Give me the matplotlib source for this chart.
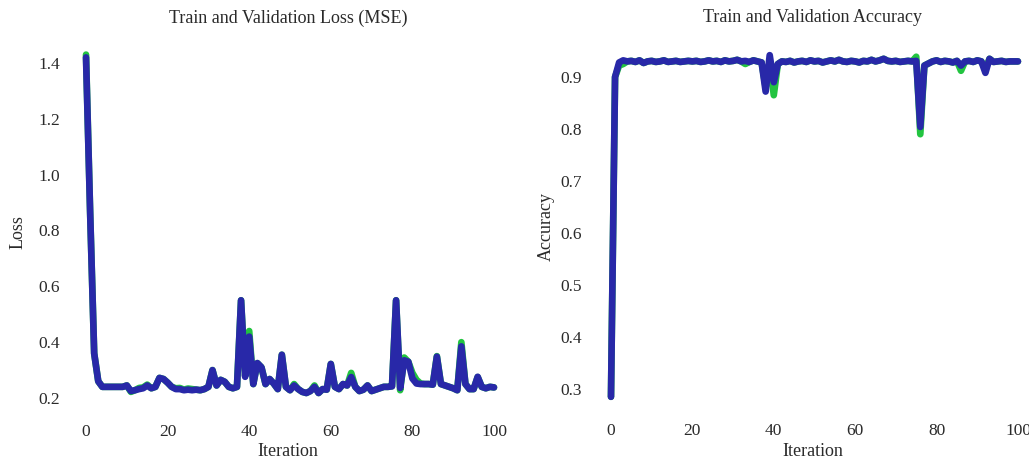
import matplotlib
matplotlib.use("Agg")
import matplotlib.pyplot as plt
import numpy as np

iterations = list(range(101))

train_loss = [1.43, 0.87, 0.36, 0.26, 0.24, 0.24, 0.24, 0.24, 0.24, 0.24,
              0.245, 0.222, 0.228, 0.236, 0.238, 0.248, 0.235, 0.24, 0.272, 0.268,
              0.255, 0.24, 0.235, 0.236, 0.23, 0.234, 0.232, 0.23, 0.228, 0.232,
              0.24, 0.30, 0.245, 0.265, 0.258, 0.24, 0.235, 0.24, 0.55, 0.28,
              0.44, 0.25, 0.325, 0.31, 0.25, 0.268, 0.252, 0.232, 0.355, 0.24,
              0.228, 0.25, 0.232, 0.222, 0.218, 0.225, 0.245, 0.218, 0.232, 0.23,
              0.322, 0.24, 0.232, 0.25, 0.245, 0.29, 0.24, 0.225, 0.23, 0.245,
              0.225, 0.23, 0.235, 0.24, 0.24, 0.242, 0.55, 0.228, 0.345, 0.33,
              0.29, 0.265, 0.252, 0.25, 0.25, 0.248, 0.35, 0.25, 0.245, 0.24,
              0.235, 0.228, 0.40, 0.25, 0.232, 0.232, 0.275, 0.24, 0.235, 0.24,
              0.238]

val_loss = [1.42, 0.87, 0.36, 0.26, 0.24, 0.24, 0.24, 0.24, 0.24, 0.24,
            0.245, 0.225, 0.228, 0.232, 0.235, 0.245, 0.235, 0.24, 0.272, 0.268,
            0.255, 0.24, 0.232, 0.232, 0.228, 0.23, 0.228, 0.23, 0.228, 0.232,
            0.24, 0.30, 0.245, 0.265, 0.258, 0.24, 0.235, 0.24, 0.55, 0.276,
            0.42, 0.25, 0.325, 0.31, 0.25, 0.268, 0.252, 0.232, 0.355, 0.24,
            0.228, 0.245, 0.232, 0.222, 0.218, 0.225, 0.24, 0.218, 0.232, 0.23,
            0.322, 0.24, 0.232, 0.25, 0.245, 0.275, 0.24, 0.225, 0.23, 0.245,
            0.225, 0.23, 0.235, 0.24, 0.24, 0.242, 0.55, 0.236, 0.335, 0.33,
            0.27, 0.252, 0.25, 0.25, 0.25, 0.248, 0.348, 0.25, 0.245, 0.24,
            0.235, 0.228, 0.385, 0.25, 0.232, 0.232, 0.276, 0.24, 0.235, 0.24,
            0.238]

train_acc = [0.285, 0.90, 0.922, 0.925, 0.930, 0.931, 0.929, 0.932, 0.927, 0.930,
             0.931, 0.929, 0.930, 0.932, 0.929, 0.930, 0.931, 0.929, 0.930, 0.931,
             0.930, 0.931, 0.929, 0.930, 0.932, 0.930, 0.931, 0.929, 0.932, 0.930,
             0.931, 0.933, 0.930, 0.925, 0.929, 0.932, 0.930, 0.928, 0.88, 0.93,
             0.865, 0.925, 0.930, 0.929, 0.931, 0.928, 0.930, 0.931, 0.929, 0.932,
             0.930, 0.931, 0.928, 0.930, 0.932, 0.930, 0.933, 0.930, 0.929, 0.931,
             0.930, 0.928, 0.931, 0.930, 0.933, 0.930, 0.932, 0.935, 0.931, 0.930,
             0.931, 0.929, 0.930, 0.931, 0.930, 0.939, 0.79, 0.922, 0.926, 0.930,
             0.932, 0.929, 0.931, 0.930, 0.928, 0.931, 0.912, 0.930, 0.931, 0.929,
             0.932, 0.930, 0.915, 0.935, 0.929, 0.930, 0.931, 0.929, 0.930, 0.930,
             0.930]

val_acc = [0.285, 0.90, 0.928, 0.932, 0.930, 0.931, 0.929, 0.932, 0.927, 0.930,
           0.931, 0.929, 0.930, 0.932, 0.929, 0.930, 0.931, 0.929, 0.930, 0.931,
           0.930, 0.931, 0.929, 0.930, 0.932, 0.930, 0.931, 0.929, 0.932, 0.930,
           0.931, 0.933, 0.930, 0.931, 0.929, 0.932, 0.930, 0.928, 0.872, 0.942,
           0.89, 0.925, 0.930, 0.929, 0.931, 0.928, 0.930, 0.931, 0.929, 0.932,
           0.930, 0.931, 0.928, 0.930, 0.932, 0.930, 0.933, 0.930, 0.929, 0.931,
           0.930, 0.928, 0.931, 0.930, 0.933, 0.930, 0.932, 0.935, 0.931, 0.930,
           0.931, 0.929, 0.930, 0.931, 0.930, 0.931, 0.804, 0.922, 0.926, 0.930,
           0.932, 0.929, 0.931, 0.930, 0.928, 0.931, 0.922, 0.930, 0.931, 0.929,
           0.932, 0.930, 0.908, 0.935, 0.929, 0.930, 0.931, 0.929, 0.930, 0.930,
           0.930]

loss_ticks = [0.2, 0.4, 0.6, 0.8, 1.0, 1.2, 1.4]
acc_ticks = [0.3, 0.4, 0.5, 0.6, 0.7, 0.8, 0.9]
x_ticks = [0, 20, 40, 60, 80, 100]

GREEN = "#22c440"
BLUE = "#2828a8"
TEXT = "#2a2a2a"
FONT = "Liberation Serif"

plt.rcParams["font.family"] = [FONT, "DejaVu Serif"]

fig = plt.figure(figsize=(10.29, 4.59), dpi=100)
fig.patch.set_facecolor("white")

ax1 = fig.add_axes([0.0717, 0.1146, 0.4163, 0.7847])
ax2 = fig.add_axes([0.5819, 0.1185, 0.4153, 0.7817])

lw = 4.8
for ax, tr, va in [(ax1, train_loss, val_loss), (ax2, train_acc, val_acc)]:
    ax.plot(iterations, tr, color=GREEN, lw=lw, solid_joinstyle="round", solid_capstyle="round")
    ax.plot(iterations, va, color=BLUE, lw=lw, solid_joinstyle="round", solid_capstyle="round")
    for s in ax.spines.values():
        s.set_visible(False)
    ax.set_xlim(-3, 102)
    ax.set_xticks(x_ticks)
    ax.set_xticklabels([str(t) for t in x_ticks])
    ax.tick_params(axis="both", length=0, labelsize=12.5, labelcolor=TEXT)
    ax.tick_params(axis="x", pad=13)
    ax.set_facecolor("white")

ax1.set_ylim(0.17, 1.46)
ax1.set_yticks(loss_ticks)
ax1.set_yticklabels([f"{t:.1f}" for t in loss_ticks])
ax1.tick_params(axis="y", pad=10)
ax1.set_title("Train and Validation Loss (MSE)", fontsize=13, color=TEXT, pad=17)
ax1.set_xlabel("Iteration", fontsize=13, color=TEXT)
ax1.set_ylabel("Loss", fontsize=13, color=TEXT)
ax1.xaxis.set_label_coords(0.5, -0.1016)
ax1.yaxis.set_label_coords(-0.111, 0.484)

ax2.set_ylim(0.27, 0.96)
ax2.set_yticks(acc_ticks)
ax2.set_yticklabels([f"{t:.1f}" for t in acc_ticks])
ax2.tick_params(axis="y", pad=12)
ax2.set_title("Train and Validation Accuracy", fontsize=13, color=TEXT, pad=17)
ax2.set_xlabel("Iteration", fontsize=13, color=TEXT)
ax2.set_ylabel("Accuracy", fontsize=13, color=TEXT)
ax2.xaxis.set_label_coords(0.5, -0.107)
ax2.yaxis.set_label_coords(-0.104, 0.496)

fig.savefig("out.png", dpi=100, facecolor="white")
